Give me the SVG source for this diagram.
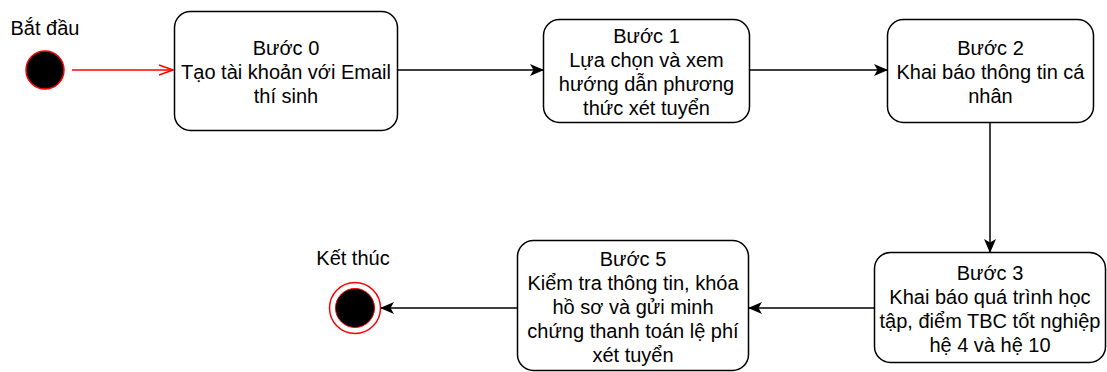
<svg xmlns="http://www.w3.org/2000/svg" width="1107" height="372" viewBox="0 0 1107 372">
<defs>
<marker id="blk" viewBox="0 0 14 12" refX="13" refY="6" markerWidth="14" markerHeight="12" markerUnits="userSpaceOnUse" orient="auto">
<path d="M0,0 L14,6 L0,12 L3.5,6 Z" fill="#000"/>
</marker>
<marker id="open" viewBox="0 0 16 12" refX="15" refY="6" markerWidth="16" markerHeight="12" markerUnits="userSpaceOnUse" orient="auto">
<path d="M1,1 L15,6 L1,11" fill="none" stroke="#ff0000" stroke-width="1.5"/>
</marker>
</defs>
<style>
.box{fill:#fff;stroke:#000;stroke-width:1.5}
.t{font-family:"Liberation Sans",Arial,sans-serif;font-size:20px;fill:#000;text-anchor:middle}
.e{fill:none;stroke:#000;stroke-width:1.5}
</style>
<rect width="1107" height="372" fill="#fff"/>
<g id="start">
<circle cx="45" cy="70" r="19" fill="#000" stroke="#ff0000" stroke-width="1.5"/>
<text class="t" x="45" y="35">Bắt đầu</text>
</g>
<g id="step0">
<rect class="box" x="174.5" y="11.5" width="223" height="119" rx="16"/>
<text class="t" x="286" y="54.5">Bước 0</text>
<text class="t" x="286" y="78.5">Tạo tài khoản với Email</text>
<text class="t" x="286" y="102.5">thí sinh</text>
</g>
<g id="step1">
<rect class="box" x="543.5" y="19.5" width="206" height="103" rx="16"/>
<text class="t" x="646.5" y="43">Bước 1</text>
<text class="t" x="646.5" y="67">Lựa chọn và xem</text>
<text class="t" x="646.5" y="91">hướng dẫn phương</text>
<text class="t" x="646.5" y="115">thức xét tuyển</text>
</g>
<g id="step2">
<rect class="box" x="887.5" y="19.5" width="206" height="103" rx="16"/>
<text class="t" x="990.5" y="55">Bước 2</text>
<text class="t" x="990.5" y="79">Khai báo thông tin cá</text>
<text class="t" x="990.5" y="103">nhân</text>
</g>
<g id="step3">
<rect class="box" x="874.5" y="252.5" width="231" height="110" rx="16"/>
<text class="t" x="990" y="279.5">Bước 3</text>
<text class="t" x="990" y="303.5">Khai báo quá trình học</text>
<text class="t" x="990" y="327.5">tập, điểm TBC tốt nghiệp</text>
<text class="t" x="990" y="351.5">hệ 4 và hệ 10</text>
</g>
<g id="step5">
<rect class="box" x="517.5" y="240.5" width="231" height="130" rx="16"/>
<text class="t" x="633" y="266">Bước 5</text>
<text class="t" x="633" y="290">Kiểm tra thông tin, khóa</text>
<text class="t" x="633" y="314">hồ sơ và gửi minh</text>
<text class="t" x="633" y="338">chứng thanh toán lệ phí</text>
<text class="t" x="633" y="362">xét tuyển</text>
</g>
<g id="end">
<circle cx="355" cy="308" r="25.5" fill="#fff" stroke="#ff0000" stroke-width="1.5"/>
<circle cx="355" cy="308" r="19.5" fill="#000" stroke="#ff0000" stroke-width="1"/>
<text class="t" x="353" y="265">Kết thúc</text>
</g>
<g id="connectors">
<path d="M72,70 L173,70" fill="none" stroke="#ff0000" stroke-width="1.5" marker-end="url(#open)"/>
<path class="e" d="M398,70 L543,70" marker-end="url(#blk)"/>
<path class="e" d="M750,70 L887,70" marker-end="url(#blk)"/>
<path class="e" d="M990,123 L990,252" marker-end="url(#blk)"/>
<path class="e" d="M874,308 L749,308" marker-end="url(#blk)"/>
<path class="e" d="M517,308 L381,308" marker-end="url(#blk)"/>
</g>
</svg>
